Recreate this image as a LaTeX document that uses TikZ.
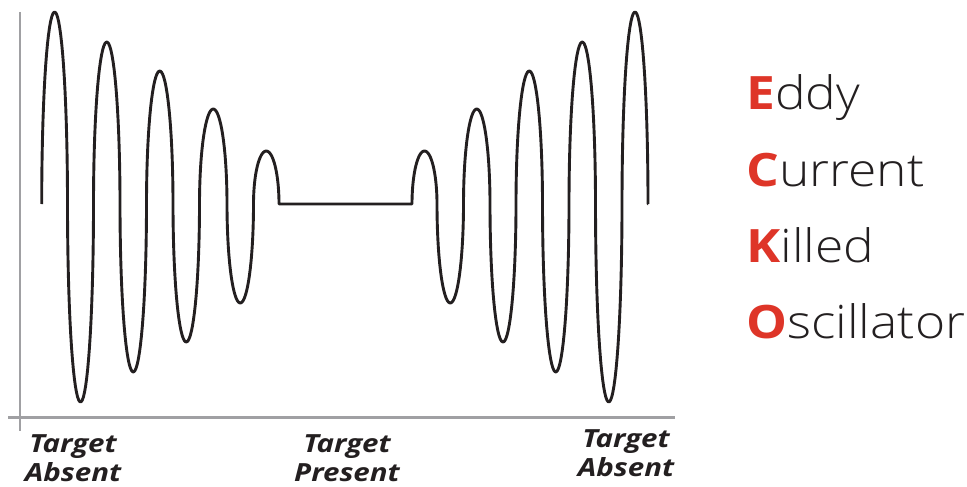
\documentclass[tikz,border=0pt]{standalone}
\usepackage{fontspec}
\setmainfont{Open Sans}
\newfontfamily\labfont[FakeStretch=1.18]{Open Sans}
\newfontfamily\redfont[FakeStretch=1.12]{Open Sans}
\newfontfamily\eckofont[FakeStretch=1.12]{Open Sans Light}
\definecolor{ink}{RGB}{35,31,32}
\definecolor{axisgray}{RGB}{160,160,163}
\definecolor{ecred}{RGB}{222,53,40}
\tikzset{
  wave/.style={draw=ink, line width=2.9pt, line join=round},
  axisline/.style={draw=axisgray, line width=2.6pt},
  tlabel/.style={font=\labfont\bfseries\itshape\fontsize{25}{29}\selectfont, text=ink, align=center, inner sep=0pt},
  eckoline/.style={font=\eckofont\fontsize{46}{50}\selectfont, text=ink, anchor=base west, inner sep=0pt},
}
\newcommand{\bigred}[1]{{\redfont\bfseries\color{ecred}#1}}
\begin{document}
\begin{tikzpicture}[x=1pt,y=-1pt]
\useasboundingbox (0,0) rectangle (967,487);
% axes
\coordinate (ytop) at (20,12);
\coordinate (ybot) at (20,431);
\coordinate (xl) at (8,417.5);
\coordinate (xr) at (675,417.5);
\draw[axisline] (ytop) -- (ybot);
\draw[axisline] (xl) -- (xr);
% waveform
\coordinate (w0) at (41.7,204);
\coordinate (f1) at (279,204);
\coordinate (f2) at (412,204);
\coordinate (w1) at (648,204);
\draw[wave] (w0)
  \foreach \a/\b/\p in {41.7/67.5/12, 67.5/93.5/402, 93.5/120/42, 120/146.5/372,
     146.5/173/71, 173/199.5/342, 199.5/227/109, 227/253.5/303, 253.5/279/151}
  { -- plot[domain=180:0, samples=36, variable=\s]
      ({(\a+\b)/2 + (\b-\a)/2*cos(\s)}, {204 + (\p-204)*sin(\s)}) }
  -- (f2)
  \foreach \a/\b/\p in {412/437/151, 437/463.5/303, 463.5/490/109, 490/516/342,
     516/542.5/71, 542.5/569/372, 569/595.5/42, 595.5/622/402, 622/648/12}
  { -- plot[domain=180:0, samples=36, variable=\s]
      ({(\a+\b)/2 + (\b-\a)/2*cos(\s)}, {204 + (\p-204)*sin(\s)}) }
  -- (w1);
% labels
\node[tlabel] (la) at (73,458.5) {Target\\Absent};
\node[tlabel] (lp) at (347,458.5) {Target\\Present};
\node[tlabel] (lr) at (626,453.5) {Target\\Absent};
% ECKO
\node[eckoline] (e1) at (746,110) {\bigred{E}ddy};
\node[eckoline] (e2) at (746,186) {\bigred{C}urrent};
\node[eckoline] (e3) at (746,262) {\bigred{K}illed};
\node[eckoline] (e4) at (746,338) {\bigred{O}scillator};
\end{tikzpicture}
\end{document}
